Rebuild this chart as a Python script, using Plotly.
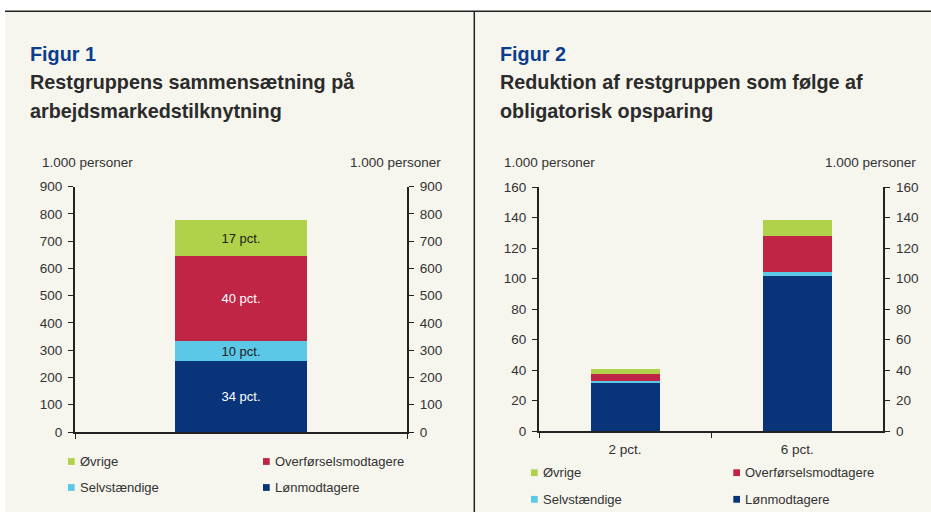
import plotly.graph_objects as go

W, H = 931, 512

# ---- data ----
series = ["Lønmodtagere", "Selvstændige", "Overførselsmodtagere", "Øvrige"]
colors = ["#0a347a", "#5bc8e8", "#c02546", "#b0d14a"]

fig1_cats = ["Restgruppen"]
fig1_lon = [260]
fig1_selv = [73]
fig1_overf = [312]
fig1_ovr = [132]
fig1_labels = ["34 pct.", "10 pct.", "40 pct.", "17 pct."]
fig1_label_colors = ["white", "#222222", "white", "#222222"]

fig2_cats = ["2 pct.", "6 pct."]
fig2_lon = [31.7, 102]
fig2_selv = [1.3, 2.2]
fig2_overf = [4.6, 23.8]
fig2_ovr = [3.1, 10.7]

legend_order = ["Øvrige", "Overførselsmodtagere", "Selvstændige", "Lønmodtagere"]

FONT = "Arial, Liberation Sans, Helvetica, sans-serif"
TXT = "#333333"
AX = "#222222"


def px(x):
    return x / W


def py(y):
    return 1 - y / H


fig = go.Figure()

fig1_vals = [fig1_lon, fig1_selv, fig1_overf, fig1_ovr]
for name, col, vals, lab, lc in zip(series, colors, fig1_vals, fig1_labels, fig1_label_colors):
    fig.add_trace(go.Bar(
        x=fig1_cats, y=vals, name=name, marker=dict(color=col, line=dict(width=0)),
        width=0.4, text=[lab], textposition="inside", insidetextanchor="middle",
        textangle=0, constraintext="none", textfont=dict(color=lc, size=13, family=FONT),
        xaxis="x", yaxis="y", showlegend=False, hoverinfo="skip"))

fig2_vals = [fig2_lon, fig2_selv, fig2_overf, fig2_ovr]
for name, col, vals in zip(series, colors, fig2_vals):
    fig.add_trace(go.Bar(
        x=fig2_cats, y=vals, name=name, marker=dict(color=col, line=dict(width=0)),
        width=0.4, xaxis="x3", yaxis="y3", showlegend=False, hoverinfo="skip"))

# invisible helpers so the right-hand mirror axes are drawn
fig.add_trace(go.Scatter(x=fig1_cats, y=[0], mode="markers", marker=dict(opacity=0),
                         xaxis="x", yaxis="y2", showlegend=False, hoverinfo="skip"))
fig.add_trace(go.Scatter(x=fig2_cats, y=[0, 0], mode="markers", marker=dict(opacity=0),
                         xaxis="x3", yaxis="y4", showlegend=False, hoverinfo="skip"))

yaxis_common = dict(showline=True, linecolor=AX, linewidth=2, ticks="outside",
                    ticklen=5, tickwidth=1, tickcolor=AX, showgrid=False, zeroline=False,
                    automargin=False, ticklabelstandoff=3,
                    tickfont=dict(family=FONT, size=13.5, color=TXT), fixedrange=True)
xaxis_common = dict(showline=True, linecolor=AX, linewidth=2, ticks="outside",
                    ticklen=5, tickwidth=1, tickcolor=AX, showgrid=False, zeroline=False,
                    type="category", tickson="boundaries", automargin=False,
                    ticklabelstandoff=5,
                    tickfont=dict(family=FONT, size=13.5, color=TXT), fixedrange=True)

fig.update_layout(
    width=W, height=H, autosize=False,
    margin=dict(l=0, r=0, t=0, b=0, pad=0, autoexpand=False),
    paper_bgcolor="white", plot_bgcolor="rgba(0,0,0,0)",
    barmode="stack", font=dict(family=FONT, color=TXT),
    xaxis=dict(xaxis_common, domain=[px(75), px(407)], anchor="y",
               range=[-0.5, 0.5], showticklabels=False),
    yaxis=dict(yaxis_common, domain=[py(432), py(186.7)], anchor="x",
               range=[0, 900], dtick=100),
    yaxis2=dict(yaxis_common, domain=[py(432), py(186.7)], anchor="x",
                overlaying="y", side="right", range=[0, 900], dtick=100),
    xaxis3=dict(xaxis_common, domain=[px(539), px(883.3)], anchor="y3",
                range=[-0.5, 1.5]),
    yaxis3=dict(yaxis_common, domain=[py(431), py(187.3)], anchor="x3",
                range=[0, 160], dtick=20),
    yaxis4=dict(yaxis_common, domain=[py(431), py(187.3)], anchor="x3",
                overlaying="y3", side="right", range=[0, 160], dtick=20),
)

shapes = [
    dict(type="rect", xref="paper", yref="paper", x0=px(5), x1=1, y0=0, y1=py(11.3),
         fillcolor="#f6f5ee", line=dict(width=0), layer="below"),
    dict(type="line", xref="paper", yref="paper", x0=px(5), x1=1, y0=py(11.3), y1=py(11.3),
         line=dict(color=AX, width=1.5)),
    dict(type="line", xref="paper", yref="paper", x0=px(474.3), x1=px(474.3), y0=0, y1=py(11.3),
         line=dict(color=AX, width=1.5)),
]

annotations = []


def text(x, y, s, size, color=TXT, anchor="left"):
    annotations.append(dict(xref="paper", yref="paper", x=px(x), y=py(y), text=s,
                            showarrow=False, xanchor=anchor, yanchor="middle",
                            font=dict(family=FONT, size=size, color=color)))


# titles
text(28, 54, "<b>Figur 1</b>", 19.8, "#0b3d8c")
text(28, 82, "<b>Restgruppens sammensætning på</b>", 19.8, "#2b2b2b")
text(28, 110.5, "<b>arbejdsmarkedstilknytning</b>", 19.8, "#2b2b2b")
text(497.7, 54, "<b>Figur 2</b>", 19.8, "#0b3d8c")
text(497.7, 82, "<b>Reduktion af restgruppen som følge af</b>", 19.8, "#2b2b2b")
text(497.7, 110.5, "<b>obligatorisk opsparing</b>", 19.8, "#2b2b2b")

# axis unit labels
text(40, 162.7, "1.000 personer", 13.5)
text(442.7, 162.7, "1.000 personer", 13.5, anchor="right")
text(502.3, 162.7, "1.000 personer", 13.5)
text(918.3, 162.7, "1.000 personer", 13.5, anchor="right")

# custom legends (2 x 2 grid)
color_of = dict(zip(series, colors))
legend_layouts = [
    dict(cols=[68, 263], rows=[461.5, 487.5]),
    dict(cols=[531, 733.3], rows=[472.7, 499.3]),
]
for lay in legend_layouts:
    for i, name in enumerate(legend_order):
        cx = lay["cols"][i % 2]
        cy = lay["rows"][i // 2]
        shapes.append(dict(type="rect", xref="paper", yref="paper",
                           x0=px(cx), x1=px(cx + 6.7), y0=py(cy + 3.4), y1=py(cy - 3.4),
                           fillcolor=color_of[name], line=dict(width=0)))
        text(cx + 9.5, cy, name, 13)

fig.update_layout(shapes=shapes, annotations=annotations)

fig.write_html(
    "out.html",
    config={"displayModeBar": False, "responsive": False},
    post_script="document.body.style.margin='0';document.body.style.overflow='hidden';",
)
